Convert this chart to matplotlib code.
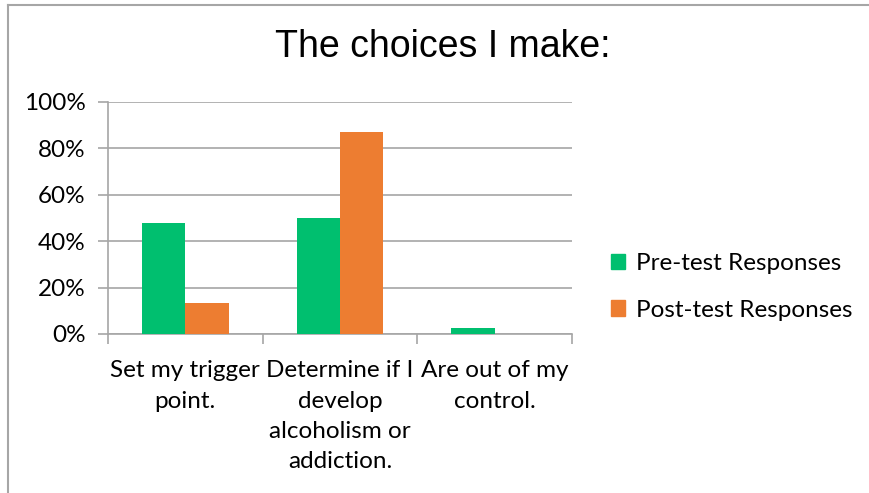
import matplotlib.pyplot as plt
import matplotlib.patches as mpatches
import numpy as np

categories = ["Set my trigger\npoint.", "Determine if I\ndevelop\nalcoholism or\naddiction.", "Are out of my\ncontrol."]
pre_test = [0.478, 0.50, 0.026]
post_test = [0.134, 0.871, 0.0]
series_names = ["Pre-test Responses", "Post-test Responses"]
colors = ["#00BF6F", "#ED7D31"]
yticks = [0, 0.2, 0.4, 0.6, 0.8, 1.0]
ytick_labels = ["0%", "20%", "40%", "60%", "80%", "100%"]

label_font = "Lato"
fs = 17.5

fig = plt.figure(figsize=(8.7, 4.93), dpi=100)
ax = fig.add_axes([108 / 870, 1 - 334 / 493, 464 / 870, 232 / 493])

x = np.arange(len(categories))
w = 0.28
ax.bar(x - w / 2, pre_test, w, color=colors[0], label=series_names[0], zorder=3)
ax.bar(x + w / 2, post_test, w, color=colors[1], label=series_names[1], zorder=3)

ax.set_xlim(-0.5, 2.5)
ax.set_ylim(0, 1.0)
ax.set_yticks(yticks)
ax.set_yticklabels(ytick_labels, fontfamily=label_font, fontsize=fs)
ax.yaxis.grid(True, color="#A6A6A6", linewidth=1.2, zorder=0)
ax.tick_params(axis="y", length=7, color="#A6A6A6", width=1.2, pad=9)

# category boundaries as x ticks
ax.set_xticks([-0.5, 0.5, 1.5, 2.5])
ax.set_xticklabels([])
ax.tick_params(axis="x", length=7, color="#A6A6A6", width=1.2)
for i, lab in enumerate(categories):
    ax.text(i, -0.113, lab, ha="center", va="top", fontfamily=label_font,
            fontsize=fs, linespacing=1.55, transform=ax.transData)

for s in ["top", "right"]:
    ax.spines[s].set_visible(False)
for s in ["left", "bottom"]:
    ax.spines[s].set_color("#A6A6A6")
    ax.spines[s].set_linewidth(1.2)

fig.text(443 / 870, 1 - 47 / 493, "The choices I make:", ha="center", va="center",
         fontfamily="Liberation Sans", fontsize=27)

handles = [mpatches.Patch(color=c) for c in colors]
fig.legend(handles, series_names, loc="center left", bbox_to_anchor=(589 / 870, 1 - 287 / 493),
           frameon=False, prop={"family": label_font, "size": fs},
           handlelength=0.6, handleheight=0.6, handletextpad=0.45, labelspacing=1.05)

# chart frame
fig.add_artist(plt.Line2D([8 / 870, 8 / 870], [0, 1 - 5 / 493], color="#A6A6A6", linewidth=1.5))
fig.add_artist(plt.Line2D([8 / 870, 1], [1 - 5 / 493, 1 - 5 / 493], color="#A6A6A6", linewidth=1.5))

fig.savefig("out.png", dpi=100)
